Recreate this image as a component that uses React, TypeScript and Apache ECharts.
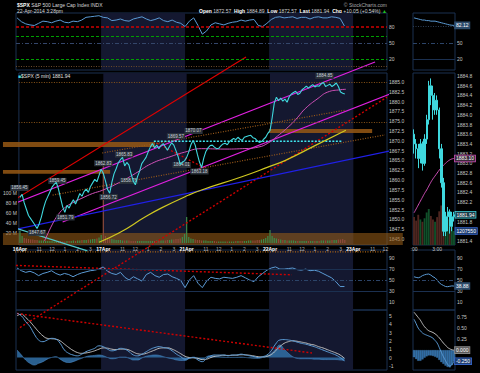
import React, { useEffect, useRef } from "react";
import * as echarts from "echarts";

// ---------------- data ----------------
const DAY_LABELS = ["16Apr", "17Apr", "21Apr", "22Apr", "23Apr"];
const BARS_PER_DAY = 78; // 5-minute bars per session
const HOUR_LABELS = ["11", "12", "1", "2", "3"];
const HOUR_OFFSETS = [18, 30, 42, 54, 66];
const SHADED_DAYS = [[78, 156, 0], [234, 312, 0]];

// 10-minute samples of the 5-min close (one sample every 2 bars)
const price16 = [1855.6, 1856.4, 1854.2, 1852.6, 1851.0, 1850.2, 1849.4, 1848.6, 1847.7, 1848.9,
  1850.6, 1852.8, 1854.6, 1855.8, 1857.0, 1858.2, 1858.9, 1859.4, 1857.8, 1855.4,
  1853.2, 1851.8, 1853.6, 1852.9, 1854.1, 1855.0, 1853.9, 1855.2, 1856.6, 1855.9,
  1857.1, 1857.7, 1856.9, 1858.4, 1859.3, 1860.2, 1859.6, 1861.2, 1862.8];
const price17 = [1861.7, 1859.8, 1857.6, 1856.7, 1859.4, 1861.6, 1862.9, 1864.4, 1865.2, 1865.8,
  1863.6, 1864.5, 1863.8, 1861.6, 1859.8, 1858.8, 1860.9, 1862.3, 1864.2, 1865.0,
  1865.8, 1867.2, 1868.4, 1869.3, 1868.2, 1868.9, 1868.0, 1868.8, 1869.3, 1868.5,
  1867.6, 1868.6, 1869.5, 1868.9, 1867.5, 1866.0, 1864.0, 1864.6, 1864.9];
const price21 = [1865.8, 1867.2, 1869.0, 1870.1, 1868.9, 1866.6, 1864.6, 1863.2, 1865.6, 1867.3,
  1868.2, 1868.8, 1868.9, 1868.4, 1868.0, 1868.1, 1868.7, 1869.2, 1869.4, 1869.0,
  1869.8, 1870.2, 1870.6, 1870.3, 1870.9, 1870.4, 1870.1, 1870.9, 1871.1, 1871.3,
  1871.4, 1870.8, 1870.6, 1870.0, 1869.6, 1869.8, 1870.4, 1870.9, 1871.9];
const price22 = [1872.6, 1875.8, 1879.6, 1881.1, 1880.2, 1880.9, 1880.1, 1880.6, 1879.8, 1881.2,
  1881.9, 1882.3, 1882.6, 1881.8, 1882.1, 1883.0, 1883.4, 1883.9, 1883.4, 1883.9,
  1884.3, 1883.7, 1884.0, 1883.9, 1884.5, 1884.85, 1883.8, 1884.1, 1884.4, 1883.8,
  1884.2, 1884.7, 1883.8, 1882.4, 1882.1, 1881.9];

// 10-minute volume, millions
const vol16 = [25, 14, 10, 9, 8, 7, 7, 6, 6, 5, 5, 5, 4, 4, 4, 4, 3, 3, 4, 4, 3, 3, 4, 4, 4, 5, 4, 5, 5, 6, 6, 6, 7, 7, 8, 8, 9, 11, 16];
const vol17 = [160, 14, 10, 9, 8, 7, 6, 6, 6, 5, 5, 5, 5, 4, 4, 4, 4, 4, 4, 4, 4, 4, 4, 4, 4, 5, 5, 5, 5, 5, 6, 6, 7, 7, 8, 8, 9, 12, 18];
const vol21 = [52, 12, 9, 8, 7, 6, 6, 5, 5, 5, 4, 4, 4, 4, 3, 3, 3, 3, 3, 3, 3, 3, 3, 4, 4, 4, 4, 4, 4, 5, 5, 5, 5, 6, 6, 7, 8, 10, 14];
const vol22 = [26, 14, 10, 9, 8, 7, 6, 6, 5, 5, 5, 5, 4, 4, 4, 4, 4, 4, 4, 4, 4, 4, 4, 4, 5, 5, 5, 5, 5, 6, 6, 6, 7, 7, 8, 6];

// moving averages: [bar, value]
const maPink = [[23, 1844.5], [30, 1848.6], [36, 1851.3], [42, 1853.0], [49, 1854.2], [58, 1855.4], [68, 1856.6],
  [77, 1857.4], [93, 1859.4], [108, 1861.7], [123, 1864.2], [139, 1865.8], [154, 1867.1], [170, 1868.0],
  [191, 1867.9], [208, 1868.0], [223, 1868.4], [232, 1869.4], [241, 1871.2], [253, 1874.0], [260, 1876.0],
  [267, 1878.2], [279, 1880.8], [288, 1882.4], [300, 1883.0], [305, 1883.1]];
const maYellow = [[74, 1844.2], [93, 1846.6], [117, 1850.6], [133, 1853.0], [158, 1856.2], [170, 1857.5],
  [207, 1860.8], [232, 1863.3], [249, 1865.1], [277, 1868.9], [305, 1872.7]];

// indicators sampled every 4 bars
const topOsc = [96, 89, 85, 83, 82, 86, 90, 89, 87, 90, 92, 88, 87, 90, 89, 92, 97, 98, 99, 100,
  97, 96, 91, 92, 94, 91, 90, 94, 96, 98, 94, 91, 93, 96, 91, 89, 92, 88, 86, 80,
  90, 96, 82, 66, 72, 83, 87, 85, 83, 86, 88, 89, 92, 90, 92, 93, 82, 80, 86, 93,
  97, 98, 96, 97, 98, 95, 97, 97, 94, 97, 98, 96, 96, 98, 97, 95, 81];
const rsiMid = [72, 67, 64, 66, 63, 58, 62, 64, 67, 62, 59, 62, 60, 56, 60, 63, 65, 67, 68, 70,
  74, 66, 62, 60, 64, 55, 50, 56, 52, 48, 60, 64, 58, 55, 60, 61, 56, 53, 49, 36,
  50, 58, 44, 36, 48, 55, 53, 52, 55, 54, 53, 55, 58, 54, 50, 47, 56, 62, 68, 72,
  74, 70, 70, 71, 72, 69, 68, 70, 67, 68, 66, 62, 58, 54, 47, 38, 38];
const macdLine = [5.3, 5.0, 4.3, 3.7, 2.8, 2.1, 1.9, 2.1, 2.3, 2.2, 1.7, 0.9, 0.5, 0.3, 0.2, 0.4, 0.7, 0.9, 1.1, 1.4,
  1.3, 1.0, 0.8, 0.9, 1.1, 1.0, 0.7, 0.3, 0.2, 0.4, 0.7, 1.0, 1.2, 1.3, 1.2, 1.1, 0.8, 0.4, 0.1, -0.2,
  -0.1, 0.0, -0.3, -0.5, -0.1, 0.2, 0.3, 0.3, 0.3, 0.2, 0.3, 0.3, 0.4, 0.3, 0.2, 0.1, 0.0, 0.1, 0.3, 0.8,
  1.6, 2.1, 2.15, 2.1, 2.0, 1.85, 1.7, 1.6, 1.45, 1.3, 1.1, 0.9, 0.7, 0.5, 0.3, 0.0, -0.4];
const signalLine = [5.0, 5.2, 4.8, 4.3, 3.7, 3.1, 2.6, 2.3, 2.25, 2.2, 2.0, 1.6, 1.2, 0.85, 0.6, 0.5, 0.55, 0.65, 0.8, 1.0,
  1.15, 1.12, 1.0, 0.95, 1.0, 1.0, 0.9, 0.65, 0.45, 0.4, 0.5, 0.7, 0.9, 1.1, 1.15, 1.15, 1.0, 0.75, 0.45, 0.15,
  0.0, -0.05, -0.1, -0.25, -0.2, 0.0, 0.15, 0.22, 0.27, 0.25, 0.27, 0.28, 0.33, 0.32, 0.27, 0.18, 0.1, 0.08, 0.15, 0.35,
  0.8, 1.3, 1.7, 1.9, 2.0, 1.95, 1.85, 1.75, 1.6, 1.5, 1.3, 1.15, 0.95, 0.75, 0.55, 0.3, -0.1];
const macdHist = [0.9, 0.3, -0.3, -0.7, -0.9, -0.7, -0.5, -0.2, 0, 0.1, -0.2, -0.5, -0.6, -0.5, -0.3, -0.1, 0.1, 0.2, 0.25, 0.3,
  0.2, 0.0, -0.15, -0.1, 0.05, 0.05, -0.1, -0.3, -0.3, -0.05, 0.15, 0.25, 0.3, 0.25, 0.1, -0.05, -0.15, -0.3, -0.35, -0.35,
  -0.1, 0.05, -0.15, -0.25, 0.1, 0.2, 0.15, 0.1, 0.05, 0, 0.02, 0.02, 0.05, 0, -0.05, -0.08, -0.1, 0, 0.15, 0.5,
  1.0, 1.5, 1.0, 0.5, 0.1, -0.1, -0.15, -0.15, -0.15, -0.2, -0.2, -0.25, -0.25, -0.25, -0.25, -0.3, -0.35];

// swing labels [bar, price, text]
const swingLabels = [[-0.5, 1858.0, "1856.45"], [16, 1846.6, "1847.67"], [35, 1859.8, "1859.45"], [42.6, 1850.5, "1851.79"],
  [78, 1864.3, "1862.83"], [83, 1855.7, "1856.72"], [97.4, 1866.5, "1865.83"], [102, 1859.8, "1858.76"],
  [146, 1871.2, "1869.57"], [162.4, 1872.5, "1870.07"], [151.3, 1863.85, "1864.01"], [168, 1862.2, "1863.18"],
  [285, 1886.5, "1884.85"]];

// drawn annotations: [bar, price] end points
const redTrend = [[-15.9, 1853.2], [211.6, 1891.3]];
const redDotTrend = [[-15.9, 1819.8], [343.5, 1881.1]];
const redDotShort = [[128.1, 1869.4], [172.6, 1863.1]];
const magentaUpper = [[-15.9, 1852.9], [332.3, 1890.05]];
const magentaLower = [[39.9, 1849.35], [366.7, 1884.1]];
const blueTrend = [[-15.9, 1846.8], [350.9, 1867.7]];
const cyanTrend = [[-15.9, 1848.8], [63.1, 1842.0]];
const brownUpper = [[77.0, 1866.9], [304.5, 1877.8]];
const brownLower = [[30.6, 1856.2], [341.6, 1871.5]];
const cyanLevel = [[125.3, 1869.9], [302, 1869.9]];
const resistLevels = [1884.8, 1874.8];
// bands [barFrom, barTo, priceLow, priceHigh]
const priceBands = [[-15.9, 126.2, 1868.4, 1869.7], [-15.9, 84.4, 1861.6, 1862.6], [233, 329.6, 1872.0, 1873.0]];
const volumeBand = [[-15.9, 358.3, 1843.5, 1846.55]];
const rsiRedTrend = [[-15.9, 77.7], [255.3, 59.5]];
const rsiOrangeLevel = [[-15.9, 101.4], [341.6, 101.4]];
const macdRedTrend = [[-3.8, 5.34], [273.8, 0.54]];
const macdRedShort = [[-15.9, -0.78], [-6.6, -1.74]];

// mini (last hour) panel
const miniOHLC = [ // open, close, low, high
  [1883.6, 1883.4, 1883.2, 1883.7], [1883.4, 1883.3, 1883.1, 1883.5], [1883.3, 1883.1, 1882.9, 1883.4],
  [1883.1, 1883.4, 1883.0, 1883.5], [1883.4, 1883.0, 1882.85, 1883.45], [1883.0, 1883.5, 1882.95, 1883.6],
  [1883.5, 1883.9, 1883.4, 1884.0], [1883.9, 1884.6, 1883.8, 1884.7], [1884.6, 1884.4, 1884.2, 1884.75],
  [1884.4, 1884.1, 1883.9, 1884.6], [1884.1, 1884.3, 1884.0, 1884.45], [1884.3, 1884.1, 1884.0, 1884.4],
  [1884.1, 1883.3, 1883.1, 1884.15], [1883.3, 1882.6, 1882.5, 1883.4], [1882.6, 1881.6, 1881.5, 1882.7],
  [1881.6, 1881.9, 1881.5, 1882.0], [1881.9, 1882.0, 1881.6, 1882.1], [1882.0, 1881.7, 1881.55, 1882.05],
  [1881.7, 1881.9, 1881.6, 1882.0], [1881.9, 1881.94, 1881.8, 1882.0]];
const miniMA = [1881.98, 1882.06, 1882.14, 1882.22, 1882.3, 1882.38, 1882.45, 1882.53, 1882.61, 1882.68,
  1882.74, 1882.8, 1882.86, 1882.91, 1882.96, 1883.0, 1883.04, 1883.07, 1883.09, 1883.10];
const miniVol = [2.4, 2.1, 2.6, 2.2, 2.0, 2.3, 2.8, 3.1, 2.5, 2.2, 2.0, 2.4, 2.9, 3.4, 3.0, 2.6, 2.2, 2.5, 1.9, 1.20755];
const miniTop = [96, 95, 94, 93, 92, 92, 91, 91, 90, 90, 90, 89, 88, 87, 86, 85, 84, 83, 82.5, 82.12];
const miniRsi = [55.9, 54.8, 54, 55.5, 58, 59.5, 60.5, 61, 59, 56, 54, 50, 45, 42, 40, 38, 37.7, 38.5, 39.2, 38.88];
const miniSignal = [0.86, 0.8, 0.74, 0.68, 0.6, 0.53, 0.48, 0.44, 0.42, 0.4, 0.37, 0.33, 0.28, 0.22, 0.16, 0.11, 0.06, 0.03, 0.01, 0.0];
const miniMacd = [0.7, 0.6, 0.5, 0.44, 0.39, 0.36, 0.34, 0.32, 0.3, 0.27, 0.22, 0.16, 0.06, -0.05, -0.15, -0.24, -0.32, -0.36, -0.33, -0.25];
const miniTickText: Record<number, string> = { 0: ":00", 11: "3:00" };

const PRICE_TICKS = [1845, 1847.5, 1850, 1852.5, 1855, 1857.5, 1860, 1862.5, 1865, 1867.5, 1870, 1872.5, 1875, 1877.5, 1880, 1882.5, 1885];
const MINI_PRICE_TICKS = [1881.4, 1881.8, 1882.2, 1882.4, 1882.6, 1882.8, 1883.0, 1883.2, 1883.4, 1883.6, 1883.8, 1884.0, 1884.2, 1884.4, 1884.6, 1884.8];
const VOL_TICKS = [20e6, 40e6, 60e6, 80e6, 100e6];

// ---------------- styling ----------------
const FONT = "'Liberation Sans', Arial, sans-serif";
const SHADE = "#141830";
const BORDER = "#1b3050";
const PRICE_C = "#3fd8de";
const IND_C = "#5b9bd5";

function buildOption() {
  const tickBars: number[] = [];
  const tickText: string[] = [];
  DAY_LABELS.forEach((d, i) => {
    const s = i * BARS_PER_DAY;
    tickBars.push(s);
    tickText.push("{d|" + d + "}");
    HOUR_OFFSETS.forEach((o, j) => {
      const b = s + o;
      if (b <= 343) {
        tickBars.push(b);
        tickText.push(HOUR_LABELS[j]);
      }
    });
  });

  const days = [price16, price17, price21, price22];
  const vols = [vol16, vol17, vol21, vol22];
  const priceData: number[][] = [];
  days.forEach((arr, d) => arr.forEach((p, i) => priceData.push([d * BARS_PER_DAY + 2 * i, p])));
  const volData: any[] = [];
  let k = 0;
  vols.forEach((arr, d) =>
    arr.forEach((v, i) => {
      const cur = priceData[k][1];
      const prev = k > 0 ? priceData[k - 1][1] : cur;
      volData.push({
        value: [d * BARS_PER_DAY + 2 * i, v * 1e6],
        itemStyle: { color: cur >= prev ? "#3e8a4a" : "#8e4a3c" },
      });
      k++;
    })
  );
  const step4 = (arr: number[]) => arr.map((v, i) => [4 * i, v]);

  const rows = [
    { top: 13, height: 57 },
    { top: 73, height: 172 },
    { top: 250, height: 60 },
    { top: 310, height: 60 },
  ];
  const grid = [
    ...rows.map((r) => ({ left: 16, width: 371, top: r.top, height: r.height, show: true, borderColor: BORDER, borderWidth: 1 })),
    ...rows.map((r) => ({ left: 413, width: 42, top: r.top, height: r.height, show: true, borderColor: BORDER, borderWidth: 1 })),
  ];

  const axTxt = { color: "#c4c4c4", fontSize: 5, fontFamily: FONT };
  const hiddenX = (gi: number) => ({
    type: "value", gridIndex: gi, min: -1, max: 343.5, show: false,
  });
  const miniCats = miniOHLC.map((_, i) => "c" + i);
  const miniX = (gi: number, labels: boolean) => ({
    type: "category", gridIndex: gi, data: miniCats, boundaryGap: true,
    axisLine: { show: false }, axisTick: { show: false }, splitLine: { show: false },
    axisLabel: labels
      ? { ...axTxt, margin: 1, interval: 0, formatter: (_v: string, i: number) => miniTickText[i] || "" }
      : { show: false },
  });
  const xAxis = [
    hiddenX(0),
    {
      type: "value", gridIndex: 1, min: -1, max: 343.5,
      axisLine: { show: false }, axisTick: { show: false }, splitLine: { show: false },
      axisLabel: {
        ...axTxt, color: "#b4b4b4", margin: 1, customValues: tickBars,
        formatter: (v: number) => {
          const i = tickBars.indexOf(v);
          return i >= 0 ? tickText[i] : "";
        },
        rich: { d: { fontWeight: "bold", color: "#ffffff", fontSize: 5, fontFamily: FONT } },
      },
    },
    hiddenX(2),
    hiddenX(3),
    miniX(4, false),
    miniX(5, true),
    miniX(6, false),
    miniX(7, false),
  ];

  const yAx = (gi: number, min: number, max: number, ticks: number[] | null, fmt: any, pos = "right") => ({
    type: "value", gridIndex: gi, min, max, position: pos,
    axisLine: { show: false }, axisTick: { show: false }, splitLine: { show: false },
    axisLabel: ticks ? { ...axTxt, margin: 2, customValues: ticks, formatter: fmt } : { show: false },
  });
  const yAxis = [
    yAx(0, 0, 105, [20, 50, 80], (v: number) => String(v)),
    yAx(1, 1843.5, 1887.25, PRICE_TICKS, (v: number) => v.toFixed(1)),
    yAx(1, -4e6, 340e6, VOL_TICKS, (v: number) => v / 1e6 + " M", "left"),
    yAx(2, -5, 105, [10, 30, 50, 70, 90], (v: number) => String(v)),
    yAx(3, -1.5, 5.7, [-1, 0, 1, 2, 3, 4, 5], (v: number) => String(v)),
    yAx(4, 0, 105, [20, 50], (v: number) => String(v)),
    yAx(5, 1881.316, 1884.862, MINI_PRICE_TICKS, (v: number) => v.toFixed(1)),
    yAx(5, 0, 14.8e6, null, null),
    yAx(6, -5, 105, [10, 30, 50, 70, 90], (v: number) => String(v)),
    yAx(7, -0.45, 0.91, [0.25, 0.5, 0.75], (v: number) => v.toFixed(2)),
  ];

  const shade = (xi: number, yi: number) => ({
    type: "custom", xAxisIndex: xi, yAxisIndex: yi, silent: true, z: 0,
    data: SHADED_DAYS, encode: { x: [0, 1], y: 2 },
    renderItem: (params: any, api: any) => {
      const cs = params.coordSys;
      const x1 = api.coord([api.value(0), api.value(2)])[0];
      const x2 = api.coord([api.value(1), api.value(2)])[0];
      return { type: "rect", shape: { x: x1, y: cs.y, width: x2 - x1, height: cs.height }, style: { fill: SHADE } };
    },
  });
  const bands = (data: number[][], fill: string, z: number) => ({
    type: "custom", xAxisIndex: 1, yAxisIndex: 1, silent: true, z, clip: false,
    data, encode: { x: [0, 1], y: [2, 3] },
    renderItem: (_p: any, api: any) => {
      const a = api.coord([api.value(0), api.value(3)]);
      const b = api.coord([api.value(1), api.value(2)]);
      return { type: "rect", shape: { x: a[0], y: a[1], width: b[0] - a[0], height: b[1] - a[1] }, style: { fill } };
    },
  });
  const trend = (pts: number[][], color: string, type: any, width: number, xi = 1, yi = 1, z = 3) => ({
    type: "line", xAxisIndex: xi, yAxisIndex: yi, data: pts, clip: false, symbol: "none", silent: true, z,
    lineStyle: { color, type, width },
  });
  const hl = (v: number, color: string, type: any, width = 1) => ({ yAxis: v, lineStyle: { color, type, width } });
  const ml = (data: any[]) => ({ silent: true, symbol: ["none", "none"], label: { show: false }, data });
  const boxLabel = (bg: string, border: string) => ({
    show: true, fontSize: 5, fontFamily: FONT, color: "#ffffff", backgroundColor: bg,
    borderColor: border, borderWidth: 0.8, padding: [1, 1, 0, 1], distance: 1,
  });

  const DOT = [1, 1.5];
  const DASHDOT = [4, 2, 1, 2];

  const series: any[] = [
    shade(0, 0), shade(1, 1), shade(2, 3), shade(3, 4),
    // top oscillator
    {
      type: "line", xAxisIndex: 0, yAxisIndex: 0, data: step4(topOsc), symbol: "none", z: 4, silent: true,
      lineStyle: { color: IND_C, width: 1 },
      markLine: ml([
        hl(80, "#d00000", [3, 2], 1.5), hl(62.6, "#00a000", [3, 2], 1.2), hl(50, "#34466a", DASHDOT),
        hl(20, "#00a000", [3, 2], 1.2), hl(6.5, "#6a4a2a", DOT),
      ]),
    },
    // main panel
    bands(volumeBand, "rgba(150,92,22,0.58)", 1),
    {
      type: "bar", xAxisIndex: 1, yAxisIndex: 2, data: volData, barWidth: 1.2, z: 2, silent: true,
    },
    bands(priceBands, "rgba(150,88,20,0.85)", 2),
    trend(redTrend, "#e00000", "solid", 1.2),
    trend(redDotTrend, "#d00000", [2, 2], 1.4),
    trend(redDotShort, "#d00000", [2, 2], 1.3),
    trend(magentaUpper, "#e020e0", "solid", 1.2),
    trend(magentaLower, "#e020e0", "solid", 1.2),
    trend(blueTrend, "#2020e8", "solid", 1.2),
    trend(cyanTrend, "#50c8c8", "solid", 1.2),
    trend(brownUpper, "#9a5a1a", DOT, 1.2),
    trend(brownLower, "#9a5a1a", DOT, 1.2),
    trend(cyanLevel, "#40e8f0", [2, 1.5], 1.5),
    {
      type: "line", xAxisIndex: 1, yAxisIndex: 1, data: maYellow, symbol: "none", smooth: true, z: 4, silent: true,
      lineStyle: { color: "#d0c820", width: 1.2 },
    },
    {
      type: "line", xAxisIndex: 1, yAxisIndex: 1, data: maPink, symbol: "none", smooth: true, z: 4, silent: true,
      lineStyle: { color: "#d050b8", width: 1 },
    },
    {
      type: "line", xAxisIndex: 1, yAxisIndex: 1, data: priceData, symbol: "none", z: 5, silent: true,
      lineStyle: { color: PRICE_C, width: 1.1 },
      markLine: ml(resistLevels.map((v) => hl(v, "#8a5418", DOT, 1.2))),
      markPoint: {
        symbol: "rect", symbolSize: 1, itemStyle: { color: "transparent" }, silent: true,
        label: {
          show: true, position: "inside", formatter: (p: any) => p.name, fontSize: 4.5, fontFamily: FONT,
          color: "#c8d0d8", backgroundColor: "#2b323b", padding: [1, 1, 0, 1],
        },
        data: swingLabels.map((s) => ({ name: s[2], coord: [s[0], s[1]] })),
      },
    },
    // RSI panel
    {
      type: "line", xAxisIndex: 2, yAxisIndex: 3, data: step4(rsiMid), symbol: "none", z: 4, silent: true,
      lineStyle: { color: IND_C, width: 1 },
      markLine: ml([hl(70, BORDER, "solid"), hl(50, "#2c4468", DASHDOT), hl(30, BORDER, "solid")]),
    },
    trend(rsiRedTrend, "#d00000", [2, 2], 1.4, 2, 3),
    trend(rsiOrangeLevel, "#b06818", [1, 1.5], 1.3, 2, 3),
    // MACD panel
    {
      type: "line", xAxisIndex: 3, yAxisIndex: 4, data: step4(macdHist), symbol: "none", smooth: true, z: 2, silent: true,
      lineStyle: { color: "#4a8ac8", width: 0.6 }, areaStyle: { color: "#2f6aa0", opacity: 0.9 },
    },
    {
      type: "line", xAxisIndex: 3, yAxisIndex: 4, data: step4(signalLine), symbol: "none", smooth: true, z: 3, silent: true,
      lineStyle: { color: "#bdbdbd", width: 1 },
    },
    {
      type: "line", xAxisIndex: 3, yAxisIndex: 4, data: step4(macdLine), symbol: "none", smooth: true, z: 4, silent: true,
      lineStyle: { color: IND_C, width: 1 },
    },
    trend(macdRedTrend, "#d00000", [2, 2], 1.4, 3, 4),
    trend(macdRedShort, "#d00000", [2, 2], 1.4, 3, 4),
    // mini panels
    {
      type: "line", xAxisIndex: 4, yAxisIndex: 5, data: miniTop, symbol: "none", z: 4, silent: true,
      lineStyle: { color: IND_C, width: 1 },
      markLine: ml([hl(80, "#2c3c52", DOT), hl(50, "#2c4468", DASHDOT), hl(20, BORDER, "solid")]),
      endLabel: { ...boxLabel("#2d4c6c", "#2d4c6c"), formatter: (p: any) => Number(p.value).toFixed(2) },
    },
    {
      type: "bar", xAxisIndex: 5, yAxisIndex: 7, barCategoryGap: "10%", z: 2, silent: true,
      data: miniVol.map((v, i) => ({
        value: v * 1e6,
        itemStyle: { color: miniOHLC[i][1] >= miniOHLC[i][0] ? "#10502a" : "#4e2620" },
      })),
      markPoint: {
        symbol: "rect", symbolSize: 1, itemStyle: { color: "transparent" }, silent: true,
        label: { ...boxLabel("#1f3f74", "#3a6ad0"), position: "right", formatter: (p: any) => String(Math.round(p.value)) },
        data: [{ coord: [miniCats[miniCats.length - 1], miniVol[miniVol.length - 1] * 1e6], value: miniVol[miniVol.length - 1] * 1e6 }],
      },
    },
    {
      type: "candlestick", xAxisIndex: 5, yAxisIndex: 6, barWidth: 1.8, z: 4, silent: true,
      data: miniOHLC,
      itemStyle: { color: PRICE_C, color0: PRICE_C, borderColor: PRICE_C, borderColor0: PRICE_C, borderWidth: 1 },
      markPoint: {
        symbol: "rect", symbolSize: 1, itemStyle: { color: "transparent" }, silent: true,
        label: { ...boxLabel("#1d3c48", "#40d0d8"), position: "right", formatter: (p: any) => Number(p.value).toFixed(2) },
        data: [{ coord: [miniCats[miniCats.length - 1], miniOHLC[miniOHLC.length - 1][1]], value: miniOHLC[miniOHLC.length - 1][1] }],
      },
    },
    {
      type: "line", xAxisIndex: 5, yAxisIndex: 6, data: miniMA, symbol: "none", smooth: true, z: 3, silent: true,
      lineStyle: { color: "#d050b8", width: 1 },
      endLabel: { ...boxLabel("#3a2a3a", "#d050b8"), formatter: (p: any) => Number(p.value).toFixed(2) },
    },
    {
      type: "line", xAxisIndex: 6, yAxisIndex: 8, data: miniRsi, symbol: "none", z: 4, silent: true,
      lineStyle: { color: IND_C, width: 1 },
      markLine: ml([hl(70, BORDER, "solid"), hl(50, "#2c4468", DASHDOT), hl(30, BORDER, "solid")]),
      endLabel: { ...boxLabel("#2d4c6c", "#2d4c6c"), formatter: (p: any) => Number(p.value).toFixed(2) },
    },
    {
      type: "bar", xAxisIndex: 7, yAxisIndex: 9, barCategoryGap: "0%", z: 2, silent: true,
      data: miniMacd.map((v, i) => +(v - miniSignal[i]).toFixed(3)),
      itemStyle: { color: "#2f6aa0", borderColor: "#4a8ac8", borderWidth: 0.3 },
    },
    {
      type: "line", xAxisIndex: 7, yAxisIndex: 9, data: miniSignal, symbol: "none", smooth: true, z: 3, silent: true,
      lineStyle: { color: "#bdbdbd", width: 1 },
      endLabel: { ...boxLabel("#5a5a5a", "#8a8a8a"), formatter: (p: any) => Number(p.value).toFixed(3) },
    },
    {
      type: "line", xAxisIndex: 7, yAxisIndex: 9, data: miniMacd, symbol: "none", smooth: true, z: 4, silent: true,
      lineStyle: { color: IND_C, width: 1 },
      endLabel: { ...boxLabel("#1f3f74", "#3a6ad0"), formatter: (p: any) => Number(p.value).toFixed(3) },
    },
  ];

  const graphic = [
    {
      type: "text", x: 17, y: 5,
      style: {
        text: "{b|$SPX} S&P 500 Large Cap Index INDX", fill: "#d8d8d8", fontSize: 5, fontFamily: FONT,
        verticalAlign: "middle", rich: { b: { fontWeight: "bold", fill: "#ffffff", fontSize: 5, fontFamily: FONT } },
      },
    },
    {
      type: "text", x: 17, y: 10.5,
      style: { text: "22-Apr-2014 3:28pm", fill: "#d8d8d8", fontSize: 5, fontFamily: FONT, verticalAlign: "middle" },
    },
    {
      type: "text", x: 199, y: 10.5,
      style: {
        text: "{b|Open} 1872.57  {b|High} 1884.89  {b|Low} 1872.57  {b|Last} 1881.94  {b|Chg} +10.05 (+0.54%) {g|▲}",
        fill: "#d0d0d0", fontSize: 5, fontFamily: FONT, verticalAlign: "middle",
        rich: {
          b: { fontWeight: "bold", fill: "#ffffff", fontSize: 5, fontFamily: FONT },
          g: { fill: "#20c020", fontSize: 5, fontFamily: FONT },
        },
      },
    },
    {
      type: "text", x: 387, y: 5,
      style: { text: "© StockCharts.com", fill: "#a8a8a8", fontSize: 5, fontFamily: FONT, verticalAlign: "middle", align: "right" },
    },
    {
      type: "text", x: 18, y: 75.5,
      style: {
        text: "{s|■}$SPX (5 min) 1881.94", fill: "#e0e0e0", fontSize: 5, fontFamily: FONT, verticalAlign: "middle",
        rich: { s: { fill: PRICE_C, fontSize: 5, fontFamily: FONT } },
      },
    },
  ];

  return {
    animation: false,
    backgroundColor: "#000000",
    grid, xAxis, yAxis, series, graphic,
  };
}

export default function App() {
  const ref = useRef<HTMLDivElement>(null);
  useEffect(() => {
    if (!ref.current) return;
    const chart = echarts.init(ref.current, null, { renderer: "svg" });
    chart.setOption(buildOption() as any);
    return () => chart.dispose();
  }, []);
  return (
    <div
      ref={ref}
      style={{ position: "fixed", left: 0, top: 0, width: 480, height: 373, background: "#000" }}
    />
  );
}
